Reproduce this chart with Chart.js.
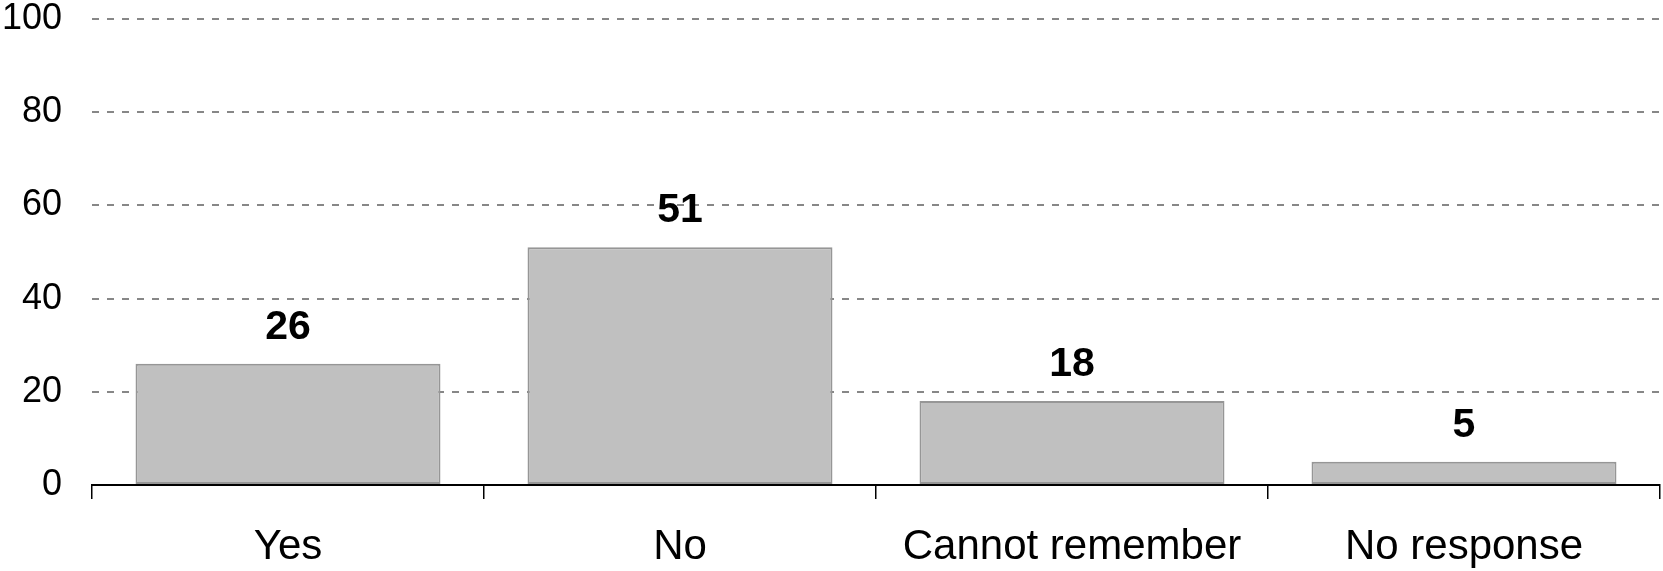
<!DOCTYPE html>
<html>
<head>
<meta charset="utf-8">
<script src="https://cdn.jsdelivr.net/npm/chart.js@4"></script>
<style>
  body { margin: 0; background: #fff; }
  #box { width: 1663px; height: 571px; }
</style>
</head>
<body>
<div id="box"><canvas id="grafico"></canvas></div>
<script>
const categorias = ["Yes", "No", "Cannot remember", "No response"];
const valores = [26, 51, 18, 5];
const ticksY = [0, 20, 40, 60, 80, 100];

const fonte = "'Liberation Sans', Arial, sans-serif";

// escreve o valor em cima de cada barra
const rotulos = {
    id: "rotulos",
    afterDatasetsDraw(chart) {
        const ctx = chart.ctx;
        const meta = chart.getDatasetMeta(0);
        ctx.save();
        ctx.font = "bold 41px " + fonte;
        ctx.fillStyle = "#000";
        ctx.textAlign = "center";
        ctx.textBaseline = "alphabetic";
        meta.data.forEach((barra, i) => {
            ctx.fillText(String(valores[i]), barra.x, barra.y - 25);
        });
        ctx.restore();
    },
};

const ctx = document.getElementById("grafico");

new Chart(ctx, {
    type: "bar",
    data: {
        labels: categorias,
        datasets: [
            {
                data: valores,
                backgroundColor: "#c0c0c0",
                borderColor: "#969696",
                borderWidth: 2,
                borderSkipped: false,
                categoryPercentage: 1,
                barPercentage: 0.778,
            },
        ],
    },
    options: {
        responsive: true,
        maintainAspectRatio: false,
        animation: false,
        plugins: {
            legend: { display: false },
            tooltip: { enabled: false },
        },
        layout: {
            padding: { left: 0, right: 3, top: 19, bottom: 0 },
        },
        scales: {
            x: {
                grid: {
                    display: true,
                    drawOnChartArea: false,
                    drawTicks: true,
                    tickLength: 14,
                    color: "#000",
                    lineWidth: 1.5,
                    offset: true,
                },
                border: { display: true, color: "#000", width: 2 },
                ticks: {
                    color: "#000",
                    padding: 23,
                    font: { family: fonte, size: 42 },
                    maxRotation: 0,
                    autoSkip: false,
                },
                afterFit(scale) {
                    scale.height = 86;
                },
            },
            y: {
                min: 0,
                max: 100,
                afterBuildTicks(scale) {
                    scale.ticks = ticksY.map(v => ({ value: v }));
                },
                grid: {
                    color: "#878787",
                    lineWidth: 2,
                    drawTicks: false,
                },
                border: { display: false, dash: [7, 8] },
                ticks: {
                    color: "#000",
                    padding: 30,
                    font: { family: fonte, size: 36 },
                },
                afterFit(scale) {
                    scale.width = 92;
                    scale.paddingTop = 19;
                    scale.paddingBottom = 0;
                },
            },
        },
    },
    plugins: [rotulos],
});
</script>
</body>
</html>
